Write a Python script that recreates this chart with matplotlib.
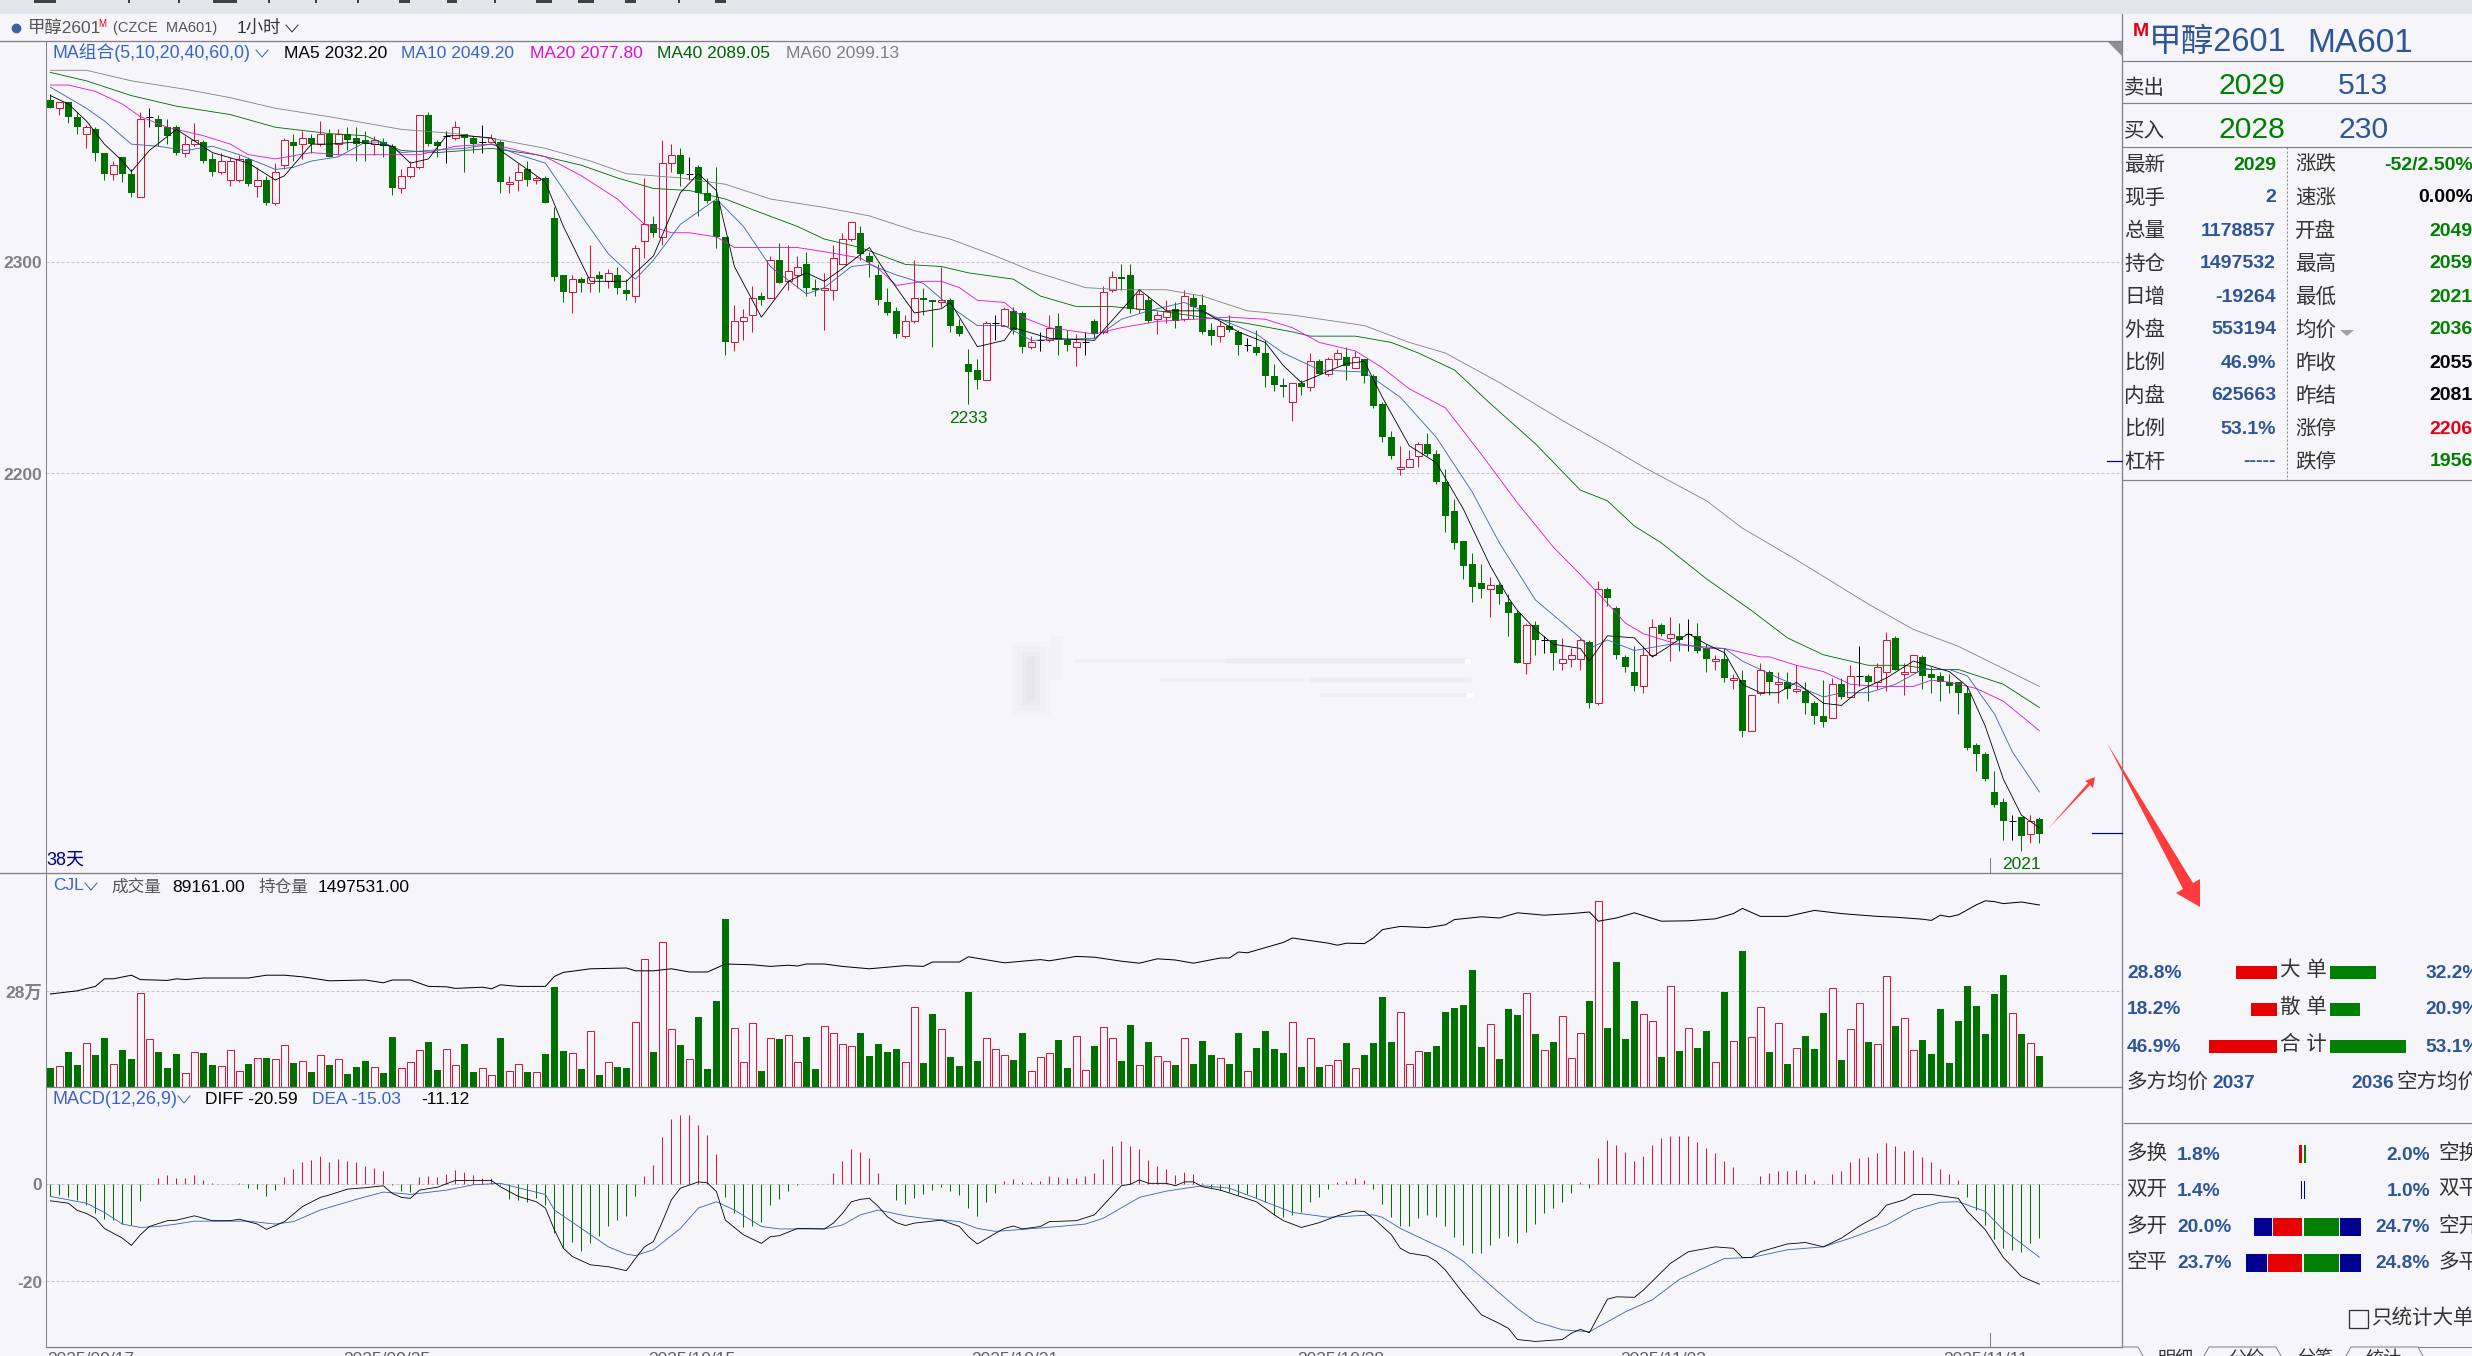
import matplotlib
matplotlib.use('Agg')
import matplotlib.pyplot as plt
from matplotlib.patches import Polygon, Rectangle

plt.rcParams['font.family'] = ['Liberation Sans', 'Noto Sans CJK SC', 'DejaVu Sans']

# K线 (1小时)
opens = [2377,2373,2376,2369,2361,2363,2352,2342,2350,2342,
         2331,2369,2368,2364,2364,2352,2356,2357,2349,2343,
         2339,2339,2349,2336,2339,2328,2346,2357,2356,2359,
         2356,2361,2356,2361,2359,2358,2356,2357,2355,2335,
         2341,2345,2370,2357,2360,2359,2361,2359,2357,2357,
         2357,2337,2339,2344,2339,2340,2321,2294,2286,2292,
         2290,2294,2291,2294,2287,2284,2310,2318,2312,2347,
         2351,2342,2345,2333,2329,2312,2262,2272,2275,2284,
         2283,2301,2291,2294,2299,2288,2287,2287,2299,2311,
         2314,2303,2294,2281,2277,2265,2272,2283,2282,2281,
         2282,2270,2252,2249,2244,2271,2270,2277,2276,2260,
         2263,2263,2270,2263,2260,2262,2272,2267,2287,2293,
         2294,2278,2282,2273,2274,2278,2273,2283,2280,2268,
         2265,2270,2267,2261,2260,2257,2246,2242,2234,2243,
         2241,2253,2247,2254,2255,2250,2254,2246,2233,2217,
         2202,2203,2208,2214,2209,2196,2182,2168,2157,2148,
         2145,2147,2139,2134,2110,2128,2121,2121,2110,2112,
         2112,2120,2091,2145,2136,2113,2106,2099,2114,2128,
         2122,2123,2124,2123,2117,2111,2112,2102,2102,2078,
         2096,2106,2100,2101,2097,2097,2091,2085,2084,2100,
         2094,2104,2104,2101,2106,2122,2105,2106,2113,2105,
         2104,2101,2101,2096,2071,2067,2049,2044,2035,2037,
         2029,2036]
closes = [2373,2376,2369,2364,2364,2352,2342,2346,2342,2333,
          2368,2369,2364,2360,2352,2356,2358,2348,2343,2348,
          2348,2349,2337,2339,2328,2343,2358,2355,2359,2356,
          2361,2350,2361,2358,2356,2356,2358,2355,2335,2341,
          2345,2370,2356,2355,2360,2364,2359,2356,2357,2359,
          2338,2338,2343,2339,2340,2328,2293,2286,2292,2290,
          2293,2292,2295,2288,2285,2307,2318,2314,2347,2351,
          2342,2342,2333,2329,2312,2262,2272,2274,2283,2282,
          2301,2290,2296,2298,2288,2287,2288,2302,2311,2319,
          2304,2300,2282,2276,2266,2272,2283,2282,2281,2282,
          2270,2266,2248,2244,2271,2271,2278,2268,2260,2262,
          2263,2269,2263,2261,2262,2262,2266,2286,2293,2292,
          2278,2285,2272,2275,2277,2272,2284,2279,2267,2265,
          2270,2268,2261,2261,2257,2246,2242,2241,2243,2241,
          2253,2247,2254,2257,2251,2255,2246,2232,2217,2208,
          2203,2207,2214,2209,2196,2180,2167,2156,2146,2145,
          2147,2143,2134,2110,2128,2121,2121,2115,2112,2114,
          2121,2091,2145,2141,2114,2108,2099,2114,2127,2124,
          2124,2121,2124,2116,2112,2112,2103,2103,2078,2095,
          2107,2101,2101,2098,2098,2091,2085,2082,2100,2094,
          2104,2104,2101,2108,2121,2107,2106,2114,2104,2103,
          2101,2099,2096,2070,2067,2055,2043,2035,2035,2028,
          2035,2029]
highs = [2380,2376,2376,2371,2365,2364,2352,2348,2350,2344,
         2371,2373,2370,2368,2365,2360,2366,2358,2352,2352,
         2350,2351,2350,2345,2341,2347,2359,2361,2362,2361,
         2367,2363,2363,2364,2364,2362,2360,2359,2356,2344,
         2348,2370,2371,2358,2362,2367,2361,2360,2365,2361,
         2358,2341,2347,2348,2341,2341,2326,2294,2294,2293,
         2308,2296,2297,2298,2292,2308,2340,2322,2358,2356,
         2354,2350,2346,2340,2345,2312,2280,2278,2289,2286,
         2303,2309,2308,2303,2305,2292,2295,2308,2314,2319,
         2317,2305,2299,2288,2279,2275,2301,2288,2282,2298,
         2283,2273,2259,2254,2272,2275,2279,2279,2277,2265,
         2267,2275,2276,2268,2266,2267,2273,2289,2296,2299,
         2299,2287,2284,2277,2282,2281,2287,2285,2285,2271,
         2272,2275,2268,2264,2268,2263,2252,2245,2243,2244,
         2257,2254,2255,2259,2260,2258,2254,2247,2234,2220,
         2213,2211,2215,2219,2211,2202,2188,2168,2162,2157,
         2151,2148,2143,2135,2129,2130,2123,2121,2122,2117,
         2122,2121,2149,2146,2137,2114,2118,2118,2131,2129,
         2132,2129,2131,2129,2119,2114,2117,2105,2107,2095,
         2110,2107,2106,2106,2109,2101,2092,2102,2103,2103,
         2109,2118,2105,2110,2125,2123,2110,2114,2114,2108,
         2106,2105,2101,2099,2072,2068,2059,2046,2038,2037,
         2038,2037]
lows = [2373,2370,2366,2361,2354,2348,2339,2339,2338,2331,
        2331,2364,2355,2356,2351,2350,2355,2347,2341,2342,
        2336,2338,2336,2331,2327,2327,2344,2348,2349,2352,
        2355,2350,2351,2353,2348,2348,2351,2350,2332,2333,
        2340,2344,2355,2350,2347,2358,2343,2352,2352,2356,
        2333,2333,2334,2336,2337,2328,2291,2281,2276,2286,
        2286,2286,2288,2285,2282,2281,2302,2312,2308,2343,
        2336,2339,2322,2328,2307,2256,2258,2263,2267,2280,
        2283,2290,2287,2288,2284,2284,2268,2282,2299,2310,
        2301,2293,2280,2275,2264,2264,2271,2275,2260,2279,
        2267,2265,2233,2240,2244,2263,2270,2266,2257,2259,
        2258,2262,2256,2258,2251,2256,2264,2266,2286,2287,
        2276,2276,2271,2266,2271,2269,2272,2273,2266,2261,
        2262,2267,2256,2258,2256,2241,2239,2236,2225,2237,
        2239,2247,2246,2251,2244,2250,2243,2231,2215,2207,
        2199,2203,2203,2208,2195,2172,2164,2150,2139,2141,
        2132,2138,2123,2110,2105,2114,2115,2107,2107,2108,
        2107,2089,2090,2137,2112,2106,2097,2096,2113,2123,
        2111,2116,2116,2115,2106,2107,2101,2098,2075,2078,
        2095,2095,2091,2093,2096,2086,2081,2080,2084,2093,
        2094,2099,2092,2098,2097,2107,2095,2106,2098,2096,
        2092,2096,2086,2069,2059,2054,2042,2026,2026,2021,
        2025,2025]

# 均线 (读取的控制点: 序号, 价格)
ma5_i = [0,2,4,6,8,9,11,14,18,22,25,26,29,31,34,38,40,42,44,46,49,50,52,55,57,60,64,67,70,72,74,76,79,82,84,86,88,91,93,96,99,100,103,106,107,111,116,121,124,128,132,135,137,139,144,146,148,151,154,157,160,162,163,165,167,170,171,173,176,178,182,184,186,188,190,192,194,197,199,201,204,207,211,213,215,217,219,221]
ma5_v = [2379,2375,2367,2356,2348,2343,2353,2363,2352,2347,2339,2341,2356,2356,2357,2355,2347,2349,2360,2360,2359,2353,2347,2338,2317,2291,2291,2303,2333,2342,2334,2298,2274,2291,2295,2291,2297,2307,2294,2276,2278,2281,2260,2263,2269,2264,2263,2287,2277,2277,2267,2262,2251,2243,2252,2253,2236,2213,2205,2183,2156,2141,2135,2126,2119,2117,2111,2123,2122,2113,2124,2119,2115,2100,2096,2096,2101,2091,2090,2097,2103,2111,2106,2099,2080,2055,2038,2032]
ma10_i = [0,4,6,9,12,15,18,21,25,27,29,32,35,37,39,42,46,49,52,55,59,62,65,67,70,74,77,80,84,86,89,91,94,97,100,103,106,109,116,119,122,126,130,134,137,141,146,150,154,158,161,165,170,171,173,176,180,183,186,188,192,197,199,202,205,208,211,213,216,218,221]
ma10_v = [2383,2373,2367,2356,2355,2353,2355,2351,2344,2345,2348,2350,2357,2357,2352,2353,2354,2356,2351,2347,2322,2304,2292,2301,2318,2330,2317,2298,2285,2288,2298,2299,2294,2290,2279,2270,2270,2263,2264,2273,2277,2281,2273,2266,2257,2249,2248,2236,2217,2191,2167,2140,2122,2117,2121,2116,2119,2118,2117,2111,2103,2094,2096,2096,2100,2107,2107,2104,2086,2068,2049]
ma20_i = [0,2,5,8,10,13,17,20,22,25,29,32,37,41,45,49,53,55,59,63,66,69,71,74,76,80,83,86,90,92,94,97,99,101,103,106,108,111,116,119,123,127,131,135,138,141,145,148,151,155,159,163,167,170,172,175,177,180,184,186,190,191,194,197,200,203,207,209,211,214,217,221]
ma20_v = [2384,2384,2381,2375,2369,2364,2360,2356,2351,2349,2352,2351,2351,2351,2355,2356,2352,2350,2341,2330,2318,2314,2314,2312,2307,2307,2307,2305,2302,2297,2289,2291,2291,2288,2282,2281,2274,2269,2266,2269,2272,2273,2274,2273,2269,2262,2258,2250,2240,2231,2209,2186,2165,2152,2143,2129,2124,2120,2117,2117,2113,2113,2109,2106,2100,2099,2099,2102,2101,2098,2092,2078]
ma40_i = [0,4,9,14,20,25,31,35,39,43,49,54,59,63,67,71,75,78,83,86,90,95,99,102,107,110,114,118,123,128,133,138,140,145,149,152,156,160,165,170,173,176,179,184,189,193,197,202,206,209,212,217,221]
ma40_v = [2390,2386,2379,2374,2370,2364,2361,2360,2353,2352,2354,2351,2346,2340,2335,2334,2330,2325,2317,2311,2307,2299,2298,2295,2292,2284,2279,2279,2277,2274,2271,2267,2265,2265,2262,2257,2249,2233,2214,2192,2187,2175,2167,2150,2135,2122,2114,2109,2109,2107,2107,2100,2089]
ma60_i = [0,4,9,15,20,25,31,35,39,45,50,55,60,64,70,75,80,86,91,96,100,105,109,115,119,124,128,133,138,146,151,155,161,168,173,177,184,188,194,202,207,212,221]
ma60_v = [2391,2391,2386,2382,2378,2373,2369,2366,2363,2361,2358,2354,2348,2342,2340,2337,2330,2326,2322,2315,2311,2303,2296,2288,2287,2287,2284,2277,2275,2270,2262,2257,2243,2225,2213,2203,2187,2174,2159,2138,2126,2118,2099]

# 成交量 (万手)
volumes = [5.4,5.9,10.1,6.4,12.9,9.3,14.2,6.6,10.8,8.0,
           27.5,13.9,10.1,5.4,9.5,3.9,10.1,9.8,6.4,5.9,
           10.6,4.6,6.7,8.3,8.3,8.0,12.2,6.9,7.5,4.3,
           9.2,6.4,8.0,3.7,5.7,7.5,5.7,3.9,14.5,5.4,
           7.2,10.7,13.0,4.9,11.0,6.3,12.5,4.3,5.4,3.3,
           14.2,4.5,6.6,4.3,4.2,9.5,29.2,10.5,9.8,5.1,
           16.3,3.3,7.2,5.7,5.4,18.9,37.5,10.1,42.5,16.9,
           12.2,8.0,20.5,5.1,25.1,49.2,17.2,7.2,18.6,4.6,
           14.2,13.9,15.1,7.2,14.5,5.1,17.7,15.7,12.5,11.9,
           15.7,9.0,12.5,10.1,11.1,7.2,23.3,7.0,21.4,16.9,
           8.7,6.1,27.8,7.5,14.2,11.0,9.2,7.8,15.7,4.5,
           8.6,9.8,13.7,5.4,14.7,4.8,12.0,17.5,14.2,7.5,
           18.1,6.3,13.1,8.9,7.5,6.4,14.2,6.7,13.3,9.3,
           8.3,6.7,15.8,4.5,11.4,16.4,11.1,9.9,18.9,5.8,
           14.2,5.8,6.3,7.7,12.8,5.4,9.3,12.8,26.4,13.1,
           21.9,6.6,10.4,10.2,12.0,21.9,23.0,24.0,34.3,11.6,
           18.3,8.0,22.8,21.1,27.5,15.5,10.7,13.1,20.7,8.3,
           15.7,25.1,54.6,17.2,36.7,14.0,25.1,21.3,19.2,8.7,
           29.5,10.5,17.2,11.4,16.4,7.2,27.8,13.3,39.9,14.5,
           23.3,10.2,18.6,6.7,11.3,14.9,11.1,21.7,28.9,7.8,
           16.9,24.5,13.1,12.5,32.5,17.8,20.1,10.7,13.7,9.6,
           22.8,7.0,19.3,29.6,23.7,15.5,27.3,32.8,21.6,15.5,
           12.7,9.0]

# 持仓量 (万手)
oi_i = [0,3,5,6,7,9,10,13,14,15,17,22,24,26,28,31,35,37,38,40,42,44,45,48,49,50,52,55,56,57,60,64,65,67,69,71,73,75,78,80,82,83,84,86,88,91,95,97,98,101,102,106,110,111,114,116,119,121,123,125,127,130,131,132,133,137,138,142,143,144,146,147,148,150,153,155,156,159,161,163,166,169,171,172,174,176,179,182,185,187,188,190,193,196,199,203,205,208,209,210,211,212,214,215,216,217,219,221]
oi_v = [127.5,128.3,129.4,131.3,131.3,132.2,131.1,130.9,131.3,131.1,131.5,131.5,132.2,132.2,131.8,130.8,131.0,130.3,131.0,131.0,129.4,129.3,128.9,129.2,128.8,129.8,129.4,129.4,131.9,132.9,133.8,134.0,133.3,133.3,133.8,133.0,133.0,135.0,134.8,134.4,134.7,134.5,135.0,135.0,134.4,133.8,134.6,134.4,135.5,135.5,136.8,135.3,136.1,135.8,136.9,136.7,135.7,135.2,136.3,136.0,135.2,136.5,136.5,138.0,137.8,140.4,141.5,140.2,139.7,140.2,140.1,141.5,143.6,144.4,144.1,144.8,146.1,146.8,146.5,147.8,147.2,147.6,148.0,145.7,146.5,147.8,145.7,145.8,146.3,147.6,148.9,146.9,146.9,148.4,147.6,146.9,146.7,146.2,145.9,147.2,146.8,147.3,149.8,150.8,150.6,150.1,150.5,149.75]

# MACD
macd_hist = [-2.5,-2.2,-2.7,-3.2,-4.3,-6.0,-7.2,-7.4,-8.1,-8.4,
             -3.4,0.1,1.4,1.9,1.4,1.4,1.9,0.9,0.2,0.0,
             0.1,0.3,-0.7,-1.0,-2.4,-1.2,1.6,3.1,4.7,5.0,
             5.8,4.7,5.2,4.8,4.5,3.8,3.3,2.8,-0.1,-1.3,
             -1.6,1.6,1.7,1.6,2.1,3.0,2.5,1.9,1.4,1.4,
             -0.1,-3.1,-3.2,-3.6,-2.9,-4.3,-10.0,-13.2,-11.8,-13.7,
             -12.2,-10.7,-8.5,-7.4,-6.5,-2.4,1.7,4.0,9.8,13.4,
             14.3,14.3,12.2,10.2,6.3,-2.7,-6.0,-8.9,-8.6,-7.7,
             -4.3,-3.0,-1.3,-0.1,0.1,0.1,0.1,2.3,4.8,7.3,
             6.6,5.4,2.3,0.1,-3.2,-4.1,-2.9,-1.9,-1.2,-0.5,
             -1.3,-2.2,-4.9,-6.5,-3.6,-1.7,0.7,1.1,0.4,0.4,
             0.7,1.7,1.6,1.4,1.4,1.7,2.3,5.2,7.9,8.9,
             7.8,7.3,5.0,3.8,3.2,1.9,2.5,2.1,0.3,-0.8,
             -1.2,-1.5,-2.2,-1.9,-2.9,-3.6,-6.3,-6.7,-6.3,-5.8,
             -3.6,-2.7,-1.0,0.5,0.7,1.4,0.9,-1.0,-4.1,-6.8,
             -8.7,-8.7,-7.0,-6.3,-6.8,-8.6,-10.8,-12.6,-14.1,-14.2,
             -12.6,-11.1,-10.7,-12.0,-9.8,-8.2,-6.0,-4.9,-3.6,-1.7,
             0.4,-0.8,5.4,9.1,8.1,6.6,4.8,5.8,8.1,9.6,
             10.0,10.0,10.0,8.7,7.4,6.4,4.8,3.5,0.0,0.0,
             1.7,2.3,2.7,2.8,3.0,2.1,0.9,0.1,2.1,2.7,
             4.5,5.5,5.7,6.4,8.5,7.8,6.9,7.1,5.7,4.5,
             3.2,2.1,0.9,-2.7,-5.3,-8.4,-11.3,-13.2,-13.5,-13.9,
             -12.2,-11.1]
diff_i = [0,2,3,4,5,6,8,9,10,11,13,14,16,18,20,21,23,24,26,28,30,31,33,35,37,38,39,40,41,43,45,49,50,52,54,55,56,57,58,60,62,64,65,66,67,68,69,70,72,73,74,75,77,79,80,81,83,86,87,88,89,90,91,92,93,94,95,96,99,101,102,103,105,106,107,108,110,111,114,116,119,120,121,122,124,125,126,127,128,130,132,134,136,137,139,141,143,145,146,147,149,150,151,153,154,155,157,159,161,162,163,165,168,169,170,171,173,174,176,177,180,182,185,187,188,189,190,193,195,197,199,201,203,204,206,207,209,212,213,215,217,219,221]
diff_v = [-3.4,-3.9,-5.4,-6.0,-7.0,-9.1,-11.1,-12.6,-10.4,-8.7,-7.5,-7.4,-6.5,-7.5,-7.5,-7.2,-8.2,-9.3,-7.7,-4.6,-2.7,-2.2,-1.0,-0.7,-0.3,-1.9,-2.7,-2.9,-1.2,-0.6,0.8,0.8,-0.5,-2.5,-3.6,-4.9,-9.4,-13.2,-14.9,-16.6,-17.0,-17.8,-15.3,-12.9,-11.8,-7.7,-3.2,-0.8,0.5,0.3,-1.5,-7.4,-10.4,-12.2,-10.8,-10.6,-9.1,-9.2,-8.0,-6.0,-3.6,-3.1,-2.9,-4.6,-6.7,-7.9,-8.5,-8.0,-7.4,-8.7,-10.8,-12.3,-10.1,-9.1,-8.6,-9.2,-8.7,-7.7,-7.5,-6.3,-0.3,0.0,0.9,0.2,0.2,-0.3,0.5,0.5,-0.5,-1.2,-2.4,-3.6,-6.3,-7.5,-8.9,-7.9,-6.5,-5.5,-5.6,-7.0,-10.4,-13.2,-14.2,-14.8,-15.9,-17.7,-22.5,-26.9,-28.7,-29.7,-32.0,-32.4,-32.0,-30.7,-29.9,-30.6,-23.7,-23.2,-23.3,-21.8,-16.3,-13.9,-12.9,-13.2,-15.1,-15.1,-13.9,-12.3,-12.0,-12.9,-11.1,-8.6,-6.5,-4.3,-3.2,-2.1,-2.1,-2.9,-5.6,-9.4,-15.1,-19.0,-20.59]
dea_i = [0,4,6,8,10,12,14,16,22,25,27,30,34,37,39,40,44,47,50,55,56,59,62,64,65,67,70,72,74,76,79,81,86,88,90,92,95,97,101,103,105,108,112,115,117,121,124,128,131,134,138,142,147,148,150,155,157,160,163,165,168,171,175,178,181,184,186,189,193,197,200,204,207,210,212,215,217,221]
dea_v = [-2.5,-3.9,-5.8,-8.2,-8.9,-8.7,-8.2,-7.6,-7.6,-8.2,-7.7,-5.3,-3.1,-1.6,-1.9,-2.1,-1.2,-0.1,0.2,-2.1,-5.3,-9.1,-12.9,-14.4,-14.7,-13.5,-9.1,-4.9,-3.6,-5.3,-8.7,-9.2,-9.2,-8.4,-6.3,-5.3,-6.5,-7.0,-7.7,-9.1,-9.7,-9.3,-8.7,-8.2,-7.0,-2.7,-1.4,-0.3,-0.8,-2.9,-5.8,-6.8,-6.3,-6.8,-9.1,-13.5,-15.9,-20.8,-25.6,-28.3,-30.0,-30.4,-26.3,-23.8,-19.6,-17.0,-15.3,-15.1,-13.5,-12.9,-11.1,-8.4,-5.3,-3.7,-3.6,-5.6,-9.4,-15.03]

date_labels = ['2025/09/17', '2025/09/25', '2025/10/15', '2025/10/21', '2025/10/28', '2025/11/03', '2025/11/11']
date_pos = [47, 343, 648, 971, 1297, 1620, 1943]

# 右侧盘口
left_rows = [('最新', '2029', '#008000'), ('现手', '2', '#2F5597'), ('总量', '1178857', '#2F5597'),
             ('持仓', '1497532', '#2F5597'), ('日增', '-19264', '#2F5597'), ('外盘', '553194', '#2F5597'),
             ('比例', '46.9%', '#2F5597'), ('内盘', '625663', '#2F5597'), ('比例', '53.1%', '#2F5597'),
             ('杠杆', '-----', '#2F5597')]
right_rows = [('涨跌', '-52/2.50%', '#008000'), ('速涨', '0.00%', '#000000'), ('开盘', '2049', '#008000'),
              ('最高', '2059', '#008000'), ('最低', '2021', '#008000'), ('均价', '2036', '#008000'),
              ('昨收', '2055', '#000000'), ('昨结', '2081', '#000000'), ('涨停', '2206', '#E60012'),
              ('跌停', '1956', '#008000')]
order_names = ['大 单', '散 单', '合 计']
order_long = [28.8, 18.2, 46.9]
order_short = [32.2, 20.9, 53.1]
flow_left = [('多换', 1.8), ('双开', 1.4), ('多开', 20.0), ('空平', 23.7)]
flow_right = [('空换', 2.0), ('双平', 1.0), ('空开', 24.7), ('多平', 24.8)]
flow_seg_left = [(0.0, 1.2), (0.5, 0.5), (7.5, 12.1), (8.75, 14.2)]
flow_seg_right = [(0.9, 0.0), (0.4, 0.0), (14.6, 8.7), (14.6, 8.7)]

W, H = 2472, 1356
BG = '#F5F5FA'
RED = '#DC143C'
GREEN = '#007000'
GRID = '#C4C4C8'
AXIS = '#808088'
LW = 0.72
THIN = 0.6

fig = plt.figure(figsize=(W / 100, H / 100), dpi=100, facecolor=BG)


def pane(top, bottom):
    ax = fig.add_axes([46 / W, 1 - bottom / H, (2122 - 46) / W, (bottom - top) / H])
    ax.set_facecolor('none')
    ax.set_xlim((46 - 50.4) / 9, (2122 - 50.4) / 9)
    ax.set_xticks([])
    ax.set_yticks([])
    for s in ax.spines.values():
        s.set_visible(False)
    return ax


n = len(closes)
xs = list(range(n))

# 主图
ax1 = pane(41, 873)
ax1.set_ylim(2300 - (873 - 262.3) / 2.11, 2300 + (262.3 - 41) / 2.11)
for level in [2300, 2200]:
    ax1.axhline(level, color=GRID, lw=LW, ls=(0, (3, 2)), zorder=1)
for i in xs:
    o, c, h, l = opens[i], closes[i], highs[i], lows[i]
    top, bot = max(o, c), min(o, c)
    if o == c:
        ax1.vlines(i, l, h, color='black', lw=LW, zorder=2, snap=True)
        ax1.hlines(c, i - 0.42, i + 0.42, color='black', lw=LW, zorder=2, snap=True)
    elif c > o:
        ax1.vlines(i, top, h, color=RED, lw=LW, zorder=2, snap=True)
        ax1.vlines(i, l, bot, color=RED, lw=LW, zorder=2, snap=True)
        ax1.bar(i, top - bot, 0.72, bot, facecolor=BG, edgecolor=RED, lw=LW, zorder=2)
    else:
        ax1.vlines(i, l, h, color=GREEN, lw=LW, zorder=2, snap=True)
        ax1.bar(i, top - bot, 0.8, bot, color=GREEN, lw=0, zorder=2)
ax1.plot(ma60_i, ma60_v, color='#808080', lw=THIN, zorder=3)
ax1.plot(ma40_i, ma40_v, color='#006400', lw=THIN, zorder=3)
ax1.plot(ma20_i, ma20_v, color='#E010D0', lw=THIN, zorder=3)
ax1.plot(ma10_i, ma10_v, color='#3A5FB0', lw=THIN, zorder=3)
ax1.plot(ma5_i, ma5_v, color='black', lw=THIN, zorder=3)
ax1.text(102, 2233 - 3.5, '2233', color=GREEN, fontsize=12.5, ha='center', va='top')
ax1.text(219, 2021 - 3, '2021', color=GREEN, fontsize=12.5, ha='center', va='top')

# 成交量
ax2 = pane(873, 1086.5)
ax2.set_ylim(0, (1086.5 - 873) * 28 / 95.3)
ax2.axhline(28, color=GRID, lw=LW, ls=(0, (3, 2)), zorder=1)
for i in xs:
    if closes[i] >= opens[i]:
        ax2.bar(i, volumes[i], 0.72, facecolor=BG, edgecolor=RED, lw=LW, zorder=2)
    else:
        ax2.bar(i, volumes[i], 0.82, color=GREEN, lw=0, zorder=2)
ax2b = ax2.twinx()
ax2b.set_facecolor('none')
ax2b.set_ylim(149.75 - 181.5 * 0.25, 149.75 + 32 * 0.25)
ax2b.set_yticks([])
for s in ax2b.spines.values():
    s.set_visible(False)
ax2b.plot(oi_i, oi_v, color='black', lw=LW, zorder=3)

# MACD
ax3 = pane(1086.5, 1347)
ax3.set_ylim(-(1347 - 1184.3) / 4.85, (1184.3 - 1086.5) / 4.85)
ax3.axhline(0, color=GRID, lw=LW, ls=(0, (3, 2)), zorder=1)
ax3.axhline(-20, color=GRID, lw=LW, ls=(0, (3, 2)), zorder=1)
for i in xs:
    ax3.vlines(i, 0, macd_hist[i], color=RED if macd_hist[i] > 0 else GREEN, lw=LW, zorder=2, snap=True)
ax3.plot(dea_i, dea_v, color='#3A5FB0', lw=THIN, zorder=3)
ax3.plot(diff_i, diff_v, color='black', lw=THIN, zorder=3)

# 覆盖层, 像素坐标
ov = fig.add_axes([0, 0, 1, 1])
ov.set_facecolor('none')
ov.set_xlim(0, W)
ov.set_ylim(H, 0)
ov.axis('off')


def txt(x, y, s, color='#333333', size=12.5, weight='normal', ha='left'):
    ov.text(x, y, s, color=color, fontsize=size, fontweight=weight, ha=ha, va='center', clip_on=True)


def chevron(x, y):
    ov.plot([x, x + 6, x + 12], [y - 3, y + 4, y - 3], color='#3A5FB0', lw=LW)


def rect(x0, y0, x1, y1, color, alpha=1.0):
    ov.add_patch(Rectangle((x0, y0), x1 - x0, y1 - y0, facecolor=color, edgecolor='none', alpha=alpha))


# 边框
rect(0, 0, W, 13.5, '#E4E6EA')
for x0, x1 in [(34, 56), (128, 130), (178, 180), (213, 237), (268, 270), (315, 317), (357, 359),
               (399, 410), (447, 457), (494, 496), (536, 552), (578, 594), (625, 636), (678, 680), (715, 726)]:
    rect(x0, 0, x1, 2.5, '#404040')
ov.plot([0, 2122], [41, 41], color=AXIS, lw=LW * 1.3)
ov.plot([0, 2122], [873, 873], color=AXIS, lw=LW * 1.3)
ov.plot([46, 2122], [1086.5, 1086.5], color=AXIS, lw=LW * 1.3)
ov.plot([46, 2122], [1347, 1347], color=AXIS, lw=LW * 1.3)
ov.plot([46, 46], [41, 1347], color=AXIS, lw=LW)
ov.plot([2122, 2122], [14, 1347], color=AXIS, lw=LW * 1.3)
ov.add_patch(Polygon([(2107, 41), (2122, 41), (2122, 56)], facecolor='#909090', edgecolor='none'))
ov.plot([1990, 1990], [858, 873], color=AXIS, lw=LW)
ov.plot([1990, 1990], [1333, 1347], color=AXIS, lw=LW)
ov.plot([2092, 2122], [833, 833], color='#000080', lw=LW * 1.2)
ov.plot([2107, 2122], [461, 461], color='#000080', lw=LW * 1.2)

# 标题行
ov.plot([16], [28], marker='o', ms=6, color='#3A62A8')
txt(28, 28, '甲醇2601', '#555555', 12.5)
txt(98, 24, 'M', '#E60012', 7)
txt(113, 28, '(CZCE  MA601)', '#555555', 10.5)
txt(237, 28, '1小时', '#333333', 12.5)
ov.plot([286, 292, 298], [25, 32, 25], color='#333333', lw=LW)

txt(53, 53, 'MA组合(5,10,20,40,60,0)', '#3A62C8', 12.8)
chevron(256, 53)
txt(284, 53, 'MA5 2032.20', 'black')
txt(401, 53, 'MA10 2049.20', '#3A62C8')
txt(530, 53, 'MA20 2077.80', '#E010D0')
txt(657, 53, 'MA40 2089.05', '#006400')
txt(786, 53, 'MA60 2099.13', '#808080')
txt(46, 860, '38天', '#00007A', 13)

txt(53, 886, 'CJL', '#3A62C8')
chevron(85, 886)
txt(111, 887, '成交量', '#555555', 12)
txt(172, 887, '89161.00', 'black')
txt(259, 887, '持仓量', '#555555', 12)
txt(318, 887, '1497531.00', 'black')

txt(53, 1099, 'MACD(12,26,9)', '#3A62C8', 13)
chevron(178, 1099)
txt(205, 1099, 'DIFF -20.59', 'black')
txt(312, 1099, 'DEA -15.03', '#3A62C8')
txt(421, 1099, '-11.12', 'black')

# 纵轴标签
txt(42, 264, '2300', '#808080', 12.5, 'bold', 'right')
txt(42, 475, '2200', '#808080', 12.5, 'bold', 'right')
txt(42, 993, '28万', '#808080', 12.5, 'bold', 'right')
txt(42, 1186, '0', '#808080', 12.5, 'bold', 'right')
txt(42, 1283, '-20', '#808080', 12.5, 'bold', 'right')

# 日期, 底部被截断
for pos, label in zip(date_pos, date_labels):
    ov.text(pos, 1352.5, label, color='#606060', fontsize=12.5, ha='left', va='top', clip_on=True)

# 右侧面板
BLUE = '#2F5597'
txt(2133, 32, 'M', '#E60012', 14, 'bold')
txt(2149, 43, '甲醇2601', BLUE, 23.5)
txt(2307, 43, 'MA601', BLUE, 24)
for y in [61, 103, 147, 480]:
    ov.plot([2123, W], [y, y], color=AXIS, lw=LW * 1.2)
txt(2124, 88, '卖出', '#333333', 14.8)
txt(2218, 86, '2029', '#008000', 21.7)
txt(2338, 86, '513', BLUE, 21.7)
txt(2124, 132, '买入', '#333333', 14.8)
txt(2218, 130, '2028', '#008000', 21.7)
txt(2338, 130, '230', BLUE, 21.7)
ov.plot([2287, 2287], [147, 480], color='#808080', lw=LW, ls=(0, (2, 2)))
row_y = [165, 198, 231, 264, 297, 330, 363, 396, 429, 462]
for y, (name, val, col) in zip(row_y, left_rows):
    txt(2124, y, name, '#333333', 14.8)
    txt(2276, y, val, col, 14, 'bold', 'right')
for y, (name, val, col) in zip(row_y, right_rows):
    txt(2295, y, name, '#333333', 14.8)
    txt(2473, y, val, col, 14, 'bold', 'right')
ov.add_patch(Polygon([(2340, 330), (2354, 330), (2347, 336)], facecolor='#A0A0A0', edgecolor='none'))

order_y = [972, 1009, 1046]
for y, name, lo, sh in zip(order_y, order_names, order_long, order_short):
    txt(2127, y + 1, '%.1f%%' % lo, BLUE, 13.8, 'bold')
    txt(2425, y + 1, '%.1f%%' % sh, BLUE, 13.8, 'bold')
    rect(2277 - lo * 1.44, y - 6.5, 2277, y + 6.5, '#E60000')
    rect(2330, y - 6.5, 2330 + sh * 1.44, y + 6.5, '#007F00')
    txt(2303, y - 2, name, '#333333', 14.8, ha='center')
txt(2126, 1082, '多方均价', '#333333', 14.8)
txt(2212, 1083, '2037', BLUE, 13.8, 'bold')
txt(2351, 1083, '2036', BLUE, 13.8, 'bold')
txt(2396, 1082, '空方均价', '#333333', 14.8)
ov.plot([2124, W], [1123, 1123], color=AXIS, lw=LW * 1.2)

flow_y = [1153, 1189, 1226, 1262]
flow_h = [9, 9, 9, 9]
for k, y in enumerate(flow_y):
    name, v = flow_left[k]
    txt(2126, y, name, '#333333', 14.8)
    txt(2177, y + 2, '%.1f%%' % v, BLUE, 13.8, 'bold')
    name, v = flow_right[k]
    txt(2430, y + 2, '%.1f%%' % v, BLUE, 13.8, 'bold', 'right')
    txt(2438, y, name, '#333333', 14.8)
    # 左: 蓝+红, 右: 绿+蓝
    b, r = flow_seg_left[k]
    g, b2 = flow_seg_right[k]
    yc = y + 1
    h = flow_h[k]
    if k == 1:
        rect(2302 - b * 2.4, yc - h, 2302, yc + h, '#000090')
        rect(2304, yc - h, 2304 + g * 2.4, yc + h, '#000090')
        continue
    rect(2302 - r * 2.4, yc - h, 2302, yc + h, '#E60000')
    rect(2302 - r * 2.4 - 1 - b * 2.4, yc - h, 2302 - r * 2.4 - 1, yc + h, '#000090')
    rect(2304, yc - h, 2304 + g * 2.4, yc + h, '#007F00')
    rect(2304 + g * 2.4 + 1, yc - h, 2305 + g * 2.4 + b2 * 2.4, yc + h, '#000090')

ov.add_patch(Rectangle((2349, 1310), 19, 18, facecolor='none', edgecolor='#333333', lw=LW * 1.3))
txt(2372, 1318, '只统计大单', '#333333', 14.8)

# 底部标签页
ov.plot([2123, 2138, 2143], [1347, 1347, 1356], color=AXIS, lw=LW)
ov.plot([2204, 2209, 2276, 2281], [1347 + 9, 1347, 1347, 1356], color=AXIS, lw=LW)
ov.plot([2346, 2351, 2418, 2423], [1356, 1347, 1347, 1356], color=AXIS, lw=LW)
ov.plot([2418, W], [1347, 1347], color=AXIS, lw=LW)
for tx, tab in zip([2158, 2228, 2297, 2365], ['明细', '分价', '分笔', '统计']):
    ov.text(tx, 1351, tab, color='#333333', fontsize=13, ha='left', va='top', clip_on=True)

# 红色箭头
ov.add_patch(Polygon([(2107, 743), (2193, 883), (2200, 879), (2200, 907), (2176, 893), (2183, 889)],
                     facecolor='#FF3C3C', edgecolor='none'))
ov.add_patch(Polygon([(2048, 829), (2088, 783), (2085, 781), (2095, 777), (2093, 788), (2090, 785)],
                     facecolor='#FF3C3C', edgecolor='none'))

# 模糊水印
for dx, a in [(0, 0.03), (5, 0.04), (10, 0.05), (15, 0.06), (19, 0.06)]:
    rect(1012 + dx, 642 + dx, 1050 - dx, 716 - dx, '#A8A8B0', a)
rect(1050, 636, 1063, 680, '#C8C8D0', 0.08)
for y, x0, a in [(661, 1075, 0.07), (680, 1160, 0.06), (695, 1320, 0.09)]:
    rect(x0, y - 2, 1470, y + 2, '#B0B0B8', a)
    rect(x0 + 150, y - 3, 1472, y + 3, '#B0B0B8', a)
rect(1465, 659, 1471, 664, 'white')
rect(1467, 693, 1473, 698, 'white')

fig.savefig('out.png', dpi=100, facecolor=BG)
